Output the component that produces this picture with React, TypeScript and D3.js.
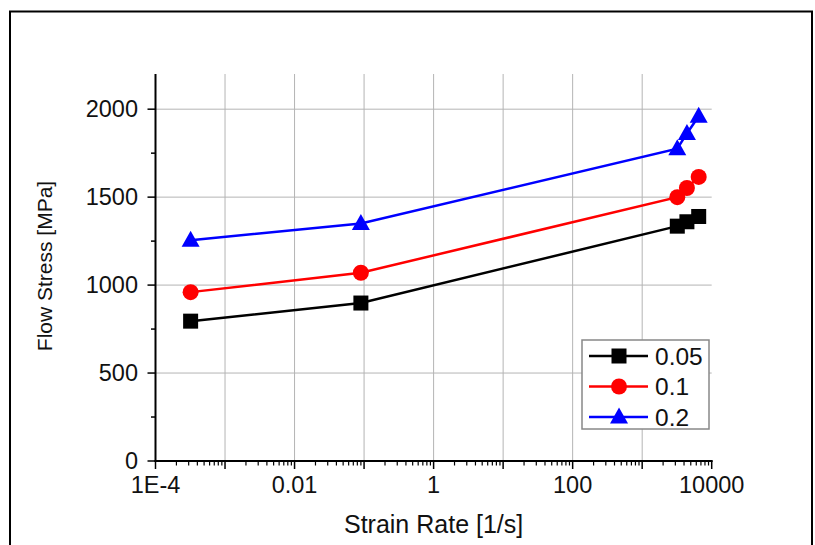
import * as d3 from "d3";

// strain rate [1/s] and flow stress [MPa] per strain level
const strainRate = [3.2e-4, 0.09, 3200, 4400, 6500];
const stress005 = [795, 898, 1335, 1360, 1390];
const stress01 = [960, 1070, 1500, 1552, 1615];
const stress02 = [1255, 1350, 1775, 1862, 1960];

const seriesNames = ["0.05", "0.1", "0.2"];
const seriesColors = ["#000000", "#ff0000", "#0000ff"];
const seriesMarkers = ["square", "circle", "triangle"];

const xTickLabels = ["1E-4", "0.01", "1", "100", "10000"];
const yTicks = [0, 500, 1000, 1500, 2000];

const font = "Arial, 'Liberation Sans', sans-serif";

function Marker({ kind, x, y, color }: { kind: string; x: number; y: number; color: string }) {
  if (kind === "square") return <rect x={x - 7.5} y={y - 7.5} width={15} height={15} fill={color} />;
  if (kind === "circle") return <circle cx={x} cy={y} r={8} fill={color} />;
  return <path d={`M${x},${y - 9.5} L${x + 9},${y + 6.5} L${x - 9},${y + 6.5} Z`} fill={color} />;
}

export default function App() {
  const width = 815;
  const height = 545;

  const x = d3.scaleLog().domain([1e-4, 1e4]).range([155.5, 711.7]);
  const y = d3.scaleLinear().domain([0, 2200]).range([461, 74]);

  const series = [stress005, stress01, stress02].map((vals, i) => ({
    name: seriesNames[i],
    color: seriesColors[i],
    marker: seriesMarkers[i],
    points: vals.map((v, j) => [strainRate[j], v] as [number, number]),
  }));

  const line = d3
    .line<[number, number]>()
    .x((d) => x(d[0]))
    .y((d) => y(d[1]));

  const decades = d3.range(-4, 5).map((e) => Math.pow(10, e));
  const minorX: number[] = [];
  decades.slice(0, -1).forEach((d) => {
    for (let k = 2; k <= 9; k++) minorX.push(d * k);
  });
  const minorY = d3.range(250, 2200, 500);

  const [x0, x1] = x.range();
  const [y0, y1] = y.range();

  const legendX = 582;
  const legendY = 340;
  const rowH = 30.5;

  return (
    <svg
      width={width}
      height={height}
      style={{ position: "absolute", left: 0, top: 0, background: "#fff" }}
      fontFamily={font}
    >
      <rect x={0} y={0} width={width} height={height} fill="#fff" />
      <rect x={10} y={11.5} width={802} height={560} fill="none" stroke="#000" strokeWidth={2} />

      {/* grid */}
      {yTicks.slice(1).map((t) => (
        <line key={`gy${t}`} x1={x0} x2={x1} y1={y(t)} y2={y(t)} stroke="#b4b4b4" strokeWidth={1} />
      ))}
      {decades.slice(1, -1).map((d) => (
        <line key={`gx${d}`} x1={x(d)} x2={x(d)} y1={y0} y2={y1} stroke="#b4b4b4" strokeWidth={1} />
      ))}

      {/* axes */}
      <line x1={x0} x2={x0} y1={y0 + 1} y2={y1} stroke="#000" strokeWidth={2} />
      <line x1={x0 - 1} x2={x1 + 1} y1={y0} y2={y0} stroke="#000" strokeWidth={2} />

      {yTicks.map((t) => (
        <g key={`yt${t}`}>
          <line x1={x0 - 8} x2={x0} y1={y(t)} y2={y(t)} stroke="#000" strokeWidth={1.5} />
          <text x={138} y={y(t)} dy="0.35em" textAnchor="end" fontSize={23.5} fill="#111">
            {t}
          </text>
        </g>
      ))}
      {minorY.map((t) => (
        <line key={`ym${t}`} x1={x0 - 4.5} x2={x0} y1={y(t)} y2={y(t)} stroke="#000" strokeWidth={1.5} />
      ))}

      {decades.map((d) => (
        <line key={`xt${d}`} x1={x(d)} x2={x(d)} y1={y0} y2={y0 + 8} stroke="#000" strokeWidth={1.5} />
      ))}
      {minorX.map((d) => (
        <line key={`xm${d}`} x1={x(d)} x2={x(d)} y1={y0} y2={y0 + 4.5} stroke="#000" strokeWidth={1.2} />
      ))}
      {decades
        .filter((_, i) => i % 2 === 0)
        .map((d, i) => (
          <text key={`xl${d}`} x={x(d)} y={493} textAnchor="middle" fontSize={23.5} fill="#111">
            {xTickLabels[i]}
          </text>
        ))}

      {/* titles */}
      <text x={(x0 + x1) / 2} y={533} textAnchor="middle" fontSize={25} fill="#111">
        Strain Rate [1/s]
      </text>
      <text transform="translate(52,266) rotate(-90)" textAnchor="middle" fontSize={21} fill="#111">
        Flow Stress [MPa]
      </text>

      {/* series */}
      {series.map((s) => (
        <g key={s.name}>
          <path d={line(s.points) ?? ""} fill="none" stroke={s.color} strokeWidth={2.5} />
          {s.points.map((p, j) => (
            <Marker key={j} kind={s.marker} x={x(p[0])} y={y(p[1])} color={s.color} />
          ))}
        </g>
      ))}

      {/* legend */}
      <rect x={legendX} y={legendY} width={127} height={89} fill="#fff" stroke="#888" strokeWidth={1.5} />
      {series.map((s, i) => {
        const cy = legendY + 16 + i * rowH;
        return (
          <g key={`lg${s.name}`}>
            <line x1={legendX + 7} x2={legendX + 66} y1={cy} y2={cy} stroke={s.color} strokeWidth={2.5} />
            <Marker kind={s.marker} x={legendX + 37} y={cy} color={s.color} />
            <text x={legendX + 73} y={cy} dy="0.36em" fontSize={24.5} fill="#111">
              {s.name}
            </text>
          </g>
        );
      })}
    </svg>
  );
}
